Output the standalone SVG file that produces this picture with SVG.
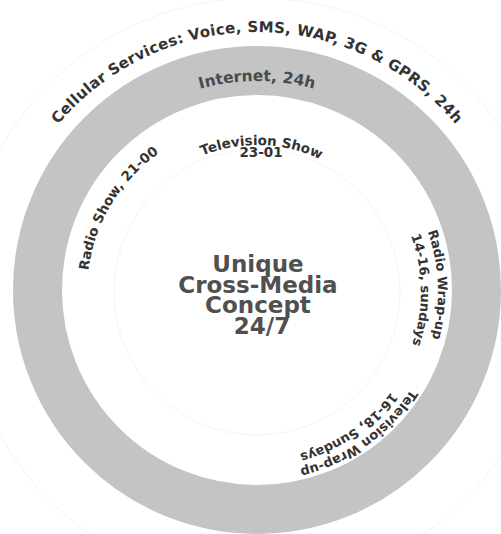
<svg xmlns="http://www.w3.org/2000/svg" width="501" height="534" viewBox="0 0 501 534">
  <style>
    text { font-family: "DejaVu Sans", "Liberation Sans", Arial, sans-serif; font-weight: bold; }
    .outer { font-size: 15px; letter-spacing: 0.3px; fill: #333333; }
    .band { font-size: 15.5px; fill: #4a4a4a; }
    .slot { font-size: 13.5px; fill: #333333; }
    .slot-sm { font-size: 13px; fill: #333333; }
    .core { font-size: 23px; fill: #505050; }
    .guide { fill: none; stroke: #f4f4f4; stroke-width: 1; }
  </style>
  <defs>
    <!-- baseline arcs, all centred on the ring centre (257,292), drawn clockwise -->
    <path id="arc-cellular" d="M -3,292 A 260 260 0 0 1 517,292"/>
    <path id="arc-internet" d="M 46,292 A 211 211 0 0 1 468,292"/>
    <path id="arc-tv-show" d="M 110,292 A 147 147 0 0 1 404,292"/>
    <path id="arc-radio-show" d="M 169.4,437.7 A 170 170 0 0 1 344.6,146.3"/>
    <path id="arc-radio-wrap-1" d="M 249.7,111.1 A 181 181 0 0 1 264.3,472.9"/>
    <path id="arc-radio-wrap-2" d="M 255.0,128.0 A 164 164 0 0 1 259.0,456.0"/>
    <path id="arc-tv-wrap-1" d="M 406.6,184.9 A 184 184 0 0 1 107.4,399.1"/>
    <path id="arc-tv-wrap-2" d="M 397.1,197.5 A 169 169 0 0 1 116.9,386.5"/>
  </defs>

  <rect width="501" height="534" fill="#ffffff"/>

  <!-- faint construction circles -->
  <circle class="guide" cx="257" cy="292" r="294"/>
  <circle class="guide" cx="257" cy="292" r="143"/>

  <!-- grey band -->
  <g id="ring">
    <circle cx="257" cy="290" r="219.5" fill="none" stroke="#c4c4c4" stroke-width="49"/>
  </g>

  <g id="cellular">
    <text class="outer"><textPath href="#arc-cellular" startOffset="50%" text-anchor="middle">Cellular Services: Voice, SMS, WAP, 3G &amp; GPRS, 24h</textPath></text>
  </g>

  <g id="internet">
    <text class="band"><textPath href="#arc-internet" startOffset="50%" text-anchor="middle">Internet, 24h</textPath></text>
  </g>

  <g id="tv-show">
    <text class="slot"><textPath href="#arc-tv-show" startOffset="51%" text-anchor="middle">Television Show</textPath></text>
    <text class="slot" x="261" y="157" text-anchor="middle">23-01</text>
  </g>

  <g id="radio-show">
    <text class="slot"><textPath href="#arc-radio-show" startOffset="50%" text-anchor="middle">Radio Show, 21-00</textPath></text>
  </g>

  <g id="radio-wrap">
    <text class="slot-sm"><textPath href="#arc-radio-wrap-1" startOffset="50%" text-anchor="middle">Radio Wrap-up</textPath></text>
    <text class="slot-sm"><textPath href="#arc-radio-wrap-2" startOffset="50%" text-anchor="middle">14-16, sundays</textPath></text>
  </g>

  <g id="tv-wrap">
    <text class="slot-sm"><textPath href="#arc-tv-wrap-1" startOffset="50%" text-anchor="middle">Television Wrap-up</textPath></text>
    <text class="slot-sm"><textPath href="#arc-tv-wrap-2" startOffset="50%" text-anchor="middle">16-18, Sundays</textPath></text>
  </g>

  <g id="core">
    <text class="core" text-anchor="middle">
      <tspan x="262" y="272">Unique</tspan>
      <tspan x="262" y="293">Cross-Media</tspan>
      <tspan x="262" y="313">Concept</tspan>
      <tspan x="262" y="334">24/7</tspan>
    </text>
  </g>
</svg>
